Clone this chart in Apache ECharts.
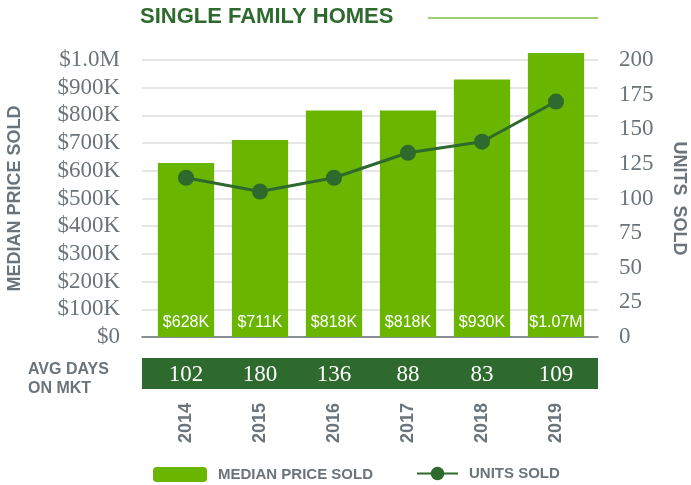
<!DOCTYPE html>
<html>
<head>
<meta charset="utf-8">
<script src="https://cdn.jsdelivr.net/npm/echarts@6/dist/echarts.min.js"></script>
<style>
  html, body { margin: 0; padding: 0; background: #fff; }
  #chart { width: 691px; height: 485px; }
</style>
</head>
<body>
<div id="chart"></div>
<script>
var years = ['2014', '2015', '2016', '2017', '2018', '2019']
var priceValues = [628000, 711000, 818000, 818000, 930000, 1025000]
var priceLabels = ['$628K', '$711K', '$818K', '$818K', '$930K', '$1.07M']
var unitsSold = [115, 105, 115, 133, 141, 170]
var avgDays = [102, 180, 136, 88, 83, 109]

var GRAY = '#6b747b'
var BAR = '#69b500'
var DARK = '#2e6a2d'
var SANS = 'Liberation Sans, Arial, sans-serif'
var SERIF = 'Liberation Serif, Times New Roman, serif'

var chart = echarts.init(document.getElementById('chart'))

function priceFmt(v) {
  if (v === 0) return '$0'
  if (v >= 1000000) return '$' + (v / 1000000).toFixed(1) + 'M'
  return '$' + (v / 1000) + 'K'
}

chart.setOption({
  animation: false,
  title: {
    text: 'SINGLE FAMILY HOMES',
    left: 140,
    top: 6,
    padding: 0,
    textStyle: { color: DARK, fontFamily: SANS, fontWeight: 'bold', fontSize: 22 }
  },
  graphic: [
    { type: 'line', shape: { x1: 428, y1: 18, x2: 598, y2: 18 }, style: { stroke: '#78c043', lineWidth: 1.5 } },
    { type: 'rect', shape: { x: 142, y: 358, width: 456, height: 31 }, style: { fill: DARK }, z: 0 },
    {
      type: 'text', left: 28, top: 360,
      style: { text: 'AVG DAYS\nON MKT', fill: GRAY, font: 'bold 16px ' + SANS, lineHeight: 19 }
    }
  ],
  legend: [
    {
      data: ['MEDIAN PRICE SOLD'],
      left: 153, top: 467, padding: 0,
      itemWidth: 54, itemHeight: 15,
      textStyle: { color: GRAY, fontFamily: SANS, fontWeight: 'bold', fontSize: 15, padding: [0, 0, 0, 6] }
    },
    {
      data: ['UNITS SOLD'],
      left: 416, top: 466, padding: 0,
      itemWidth: 41, itemHeight: 17,
      textStyle: { color: GRAY, fontFamily: SANS, fontWeight: 'bold', fontSize: 15, padding: [0, 0, 0, 6] }
    }
  ],
  grid: [
    { left: 142, right: 93, top: 60, bottom: 148, outerBoundsMode: 'none' },
    { left: 149, right: 98, top: 60, bottom: 148, outerBoundsMode: 'none' }
  ],
  xAxis: [
    {
      gridIndex: 0, type: 'category', data: years, position: 'bottom',
      axisLine: { lineStyle: { color: GRAY, width: 1.5 } },
      axisTick: { show: false }, axisLabel: { show: false }
    },
    {
      gridIndex: 1, type: 'category', data: years, position: 'bottom',
      axisLine: { show: false }, axisTick: { show: false },
      axisLabel: {
        margin: 38, verticalAlign: 'middle',
        color: '#fff', fontFamily: SERIF, fontSize: 23,
        formatter: function (v, i) { return String(avgDays[i]) }
      }
    },
    {
      gridIndex: 1, type: 'category', data: years, position: 'bottom',
      axisLine: { show: false }, axisTick: { show: false },
      axisLabel: { margin: 66, rotate: 90, color: GRAY, fontFamily: SANS, fontWeight: 'bold', fontSize: 18 }
    }
  ],
  yAxis: [
    {
      gridIndex: 0, type: 'value', min: 0, max: 1000000, interval: 100000,
      name: 'MEDIAN PRICE SOLD', nameLocation: 'middle', nameGap: 118, nameRotate: 90,
      nameTextStyle: { color: GRAY, fontFamily: SANS, fontWeight: 'bold', fontSize: 18 },
      axisLine: { show: false }, axisTick: { show: false },
      splitLine: { lineStyle: { color: '#e6e6e6', width: 2 } },
      axisLabel: { margin: 22, color: GRAY, fontFamily: SERIF, fontSize: 23, formatter: priceFmt }
    },
    {
      gridIndex: 0, type: 'value', min: 0, max: 200, interval: 25, position: 'right',
      name: 'UNITS  SOLD', nameLocation: 'middle', nameGap: 72, nameRotate: -90,
      nameTextStyle: { color: GRAY, fontFamily: SANS, fontWeight: 'bold', fontSize: 18 },
      axisLine: { show: false }, axisTick: { show: false }, splitLine: { show: false },
      axisLabel: { margin: 21, color: GRAY, fontFamily: SERIF, fontSize: 23 }
    },
    { gridIndex: 1, type: 'value', min: 0, max: 1000000, show: false, splitLine: { show: false } },
    { gridIndex: 1, type: 'value', min: 0, max: 200, show: false, splitLine: { show: false }, position: 'right' }
  ],
  series: [
    {
      name: 'MEDIAN PRICE SOLD', type: 'bar',
      xAxisIndex: 1, yAxisIndex: 2,
      data: priceValues, clip: false,
      barCategoryGap: '24%',
      itemStyle: { color: BAR },
      label: {
        show: true, position: 'insideBottom', distance: 6,
        color: '#fff', fontFamily: SANS, fontSize: 16,
        formatter: function (p) { return priceLabels[p.dataIndex] }
      }
    },
    {
      name: 'UNITS SOLD', type: 'line',
      xAxisIndex: 1, yAxisIndex: 3,
      data: unitsSold,
      symbol: 'circle', symbolSize: 16,
      lineStyle: { color: DARK, width: 3 },
      itemStyle: { color: DARK }
    }
  ]
})
</script>
</body>
</html>
